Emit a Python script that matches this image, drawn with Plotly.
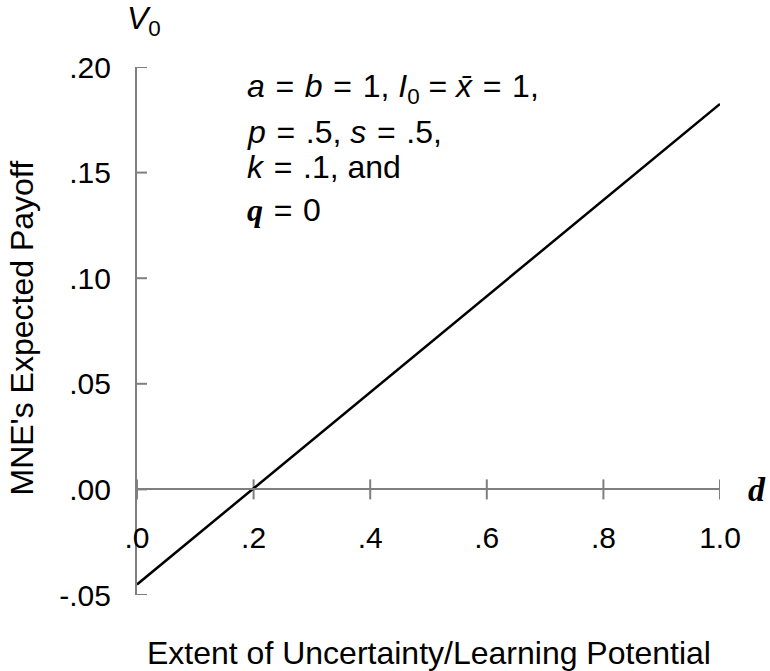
import plotly.graph_objects as go

# Expected payoff of the MNE as a function of uncertainty d
d_values = [0.0, 1.0]
v0_values = [-0.045, 0.1825]

x_tickvals = [0.0, 0.2, 0.4, 0.6, 0.8, 1.0]
x_ticktext = [".0", ".2", ".4", ".6", ".8", "1.0"]
y_tickvals = [-0.05, 0.0, 0.05, 0.10, 0.15, 0.20]
y_ticktext = ["-.05", ".00", ".05", ".10", ".15", ".20"]

SANS = "Liberation Sans, Arial, sans-serif"
SERIF = "Liberation Serif, Times New Roman, serif"
FS = 30
FS_T = 32
AXIS_GREY = "#7f7f7f"
GAP = "\u2004"  # three-per-em space around the equals signs

fig = go.Figure()
fig.add_trace(go.Scatter(
    x=d_values, y=v0_values, mode="lines",
    line=dict(color="black", width=2.5),
    cliponaxis=False, showlegend=False, hoverinfo="skip",
))

# crossing tick marks on both axes
shapes = []
for t in y_tickvals:
    shapes.append(dict(type="line", xref="x", yref="y", xsizemode="pixel", xanchor=0,
                       x0=-10, x1=10, y0=t, y1=t,
                       line=dict(color=AXIS_GREY, width=2), layer="below"))
for t in x_tickvals:
    shapes.append(dict(type="line", xref="x", yref="y", ysizemode="pixel", yanchor=0,
                       y0=-10, y1=10, x0=t, x1=t,
                       line=dict(color=AXIS_GREY, width=2), layer="below"))

y_lo, y_hi = -0.05, 0.20
zero_pos = (0 - y_lo) / (y_hi - y_lo)

fig.update_layout(
    width=770, height=671,
    margin=dict(l=137, r=50, t=67, b=76),
    plot_bgcolor="white", paper_bgcolor="white",
    font=dict(family=SANS, size=FS, color="black"),
    shapes=shapes,
    xaxis=dict(
        range=[0, 1], anchor="free", position=zero_pos,
        showline=True, linecolor=AXIS_GREY, linewidth=2,
        showgrid=False, zeroline=False, ticks="",
        tickvals=x_tickvals, ticktext=x_ticktext,
        ticklabelstandoff=22,
        tickfont=dict(family=SANS, size=FS, color="black"),
    ),
    yaxis=dict(
        range=[y_lo, y_hi],
        showline=True, linecolor=AXIS_GREY, linewidth=2,
        showgrid=False, zeroline=False, ticks="",
        tickvals=y_tickvals, ticktext=y_ticktext,
        ticklabelstandoff=18,
        tickfont=dict(family=SANS, size=FS, color="black"),
    ),
)

ann = []
# axis titles
ann.append(dict(text="Extent of Uncertainty/Learning Potential", xref="paper", yref="paper",
                x=0.5, y=-0.072, xanchor="center", yanchor="top", showarrow=False,
                font=dict(family=SANS, size=FS_T)))
ann.append(dict(text="MNE's Expected Payoff", xref="paper", yref="paper",
                x=-0.197, y=0.505, xanchor="center", yanchor="middle", textangle=-90,
                showarrow=False, font=dict(family=SANS, size=FS_T)))
ann.append(dict(text="<i>V</i><sub>0</sub>", xref="x", yref="paper",
                x=0.0, y=1.0, xanchor="left", yanchor="bottom", xshift=-12, yshift=24,
                showarrow=False, font=dict(family=SANS, size=FS_T)))
ann.append(dict(text="<b><i>d</i></b>", xref="paper", yref="y",
                x=1.0, y=0.0, xanchor="left", yanchor="middle", xshift=26,
                showarrow=False, font=dict(family=SERIF, size=FS_T + 2)))

# parameter block
px0 = 245
q_sym = "<span style='font-family:Liberation Serif'><b><i>q</i></b></span>"
eq = f"{GAP}={GAP}"
lines = [
    (f"<i>a</i>{eq}<i>b</i>{eq}1, <i>I</i><sub>0</sub> = <i>x\u0304</i>{eq}1,", 88),
    (f"<i>p</i>{eq}.5, <i>s</i>{eq}.5,", 132),
    (f"<i>k</i>{eq}.1, and", 167),
    (f"{q_sym}{eq}0", 210),
]
pw, ph = 770 - 137 - 50, 671 - 67 - 76
for txt, py in lines:
    ann.append(dict(text=txt, xref="paper", yref="paper",
                    x=(px0 - 137) / pw, y=(595 - py) / ph,
                    xanchor="left", yanchor="middle", showarrow=False,
                    font=dict(family=SANS, size=FS_T)))

fig.update_layout(annotations=ann)
fig.write_html("out.html")
